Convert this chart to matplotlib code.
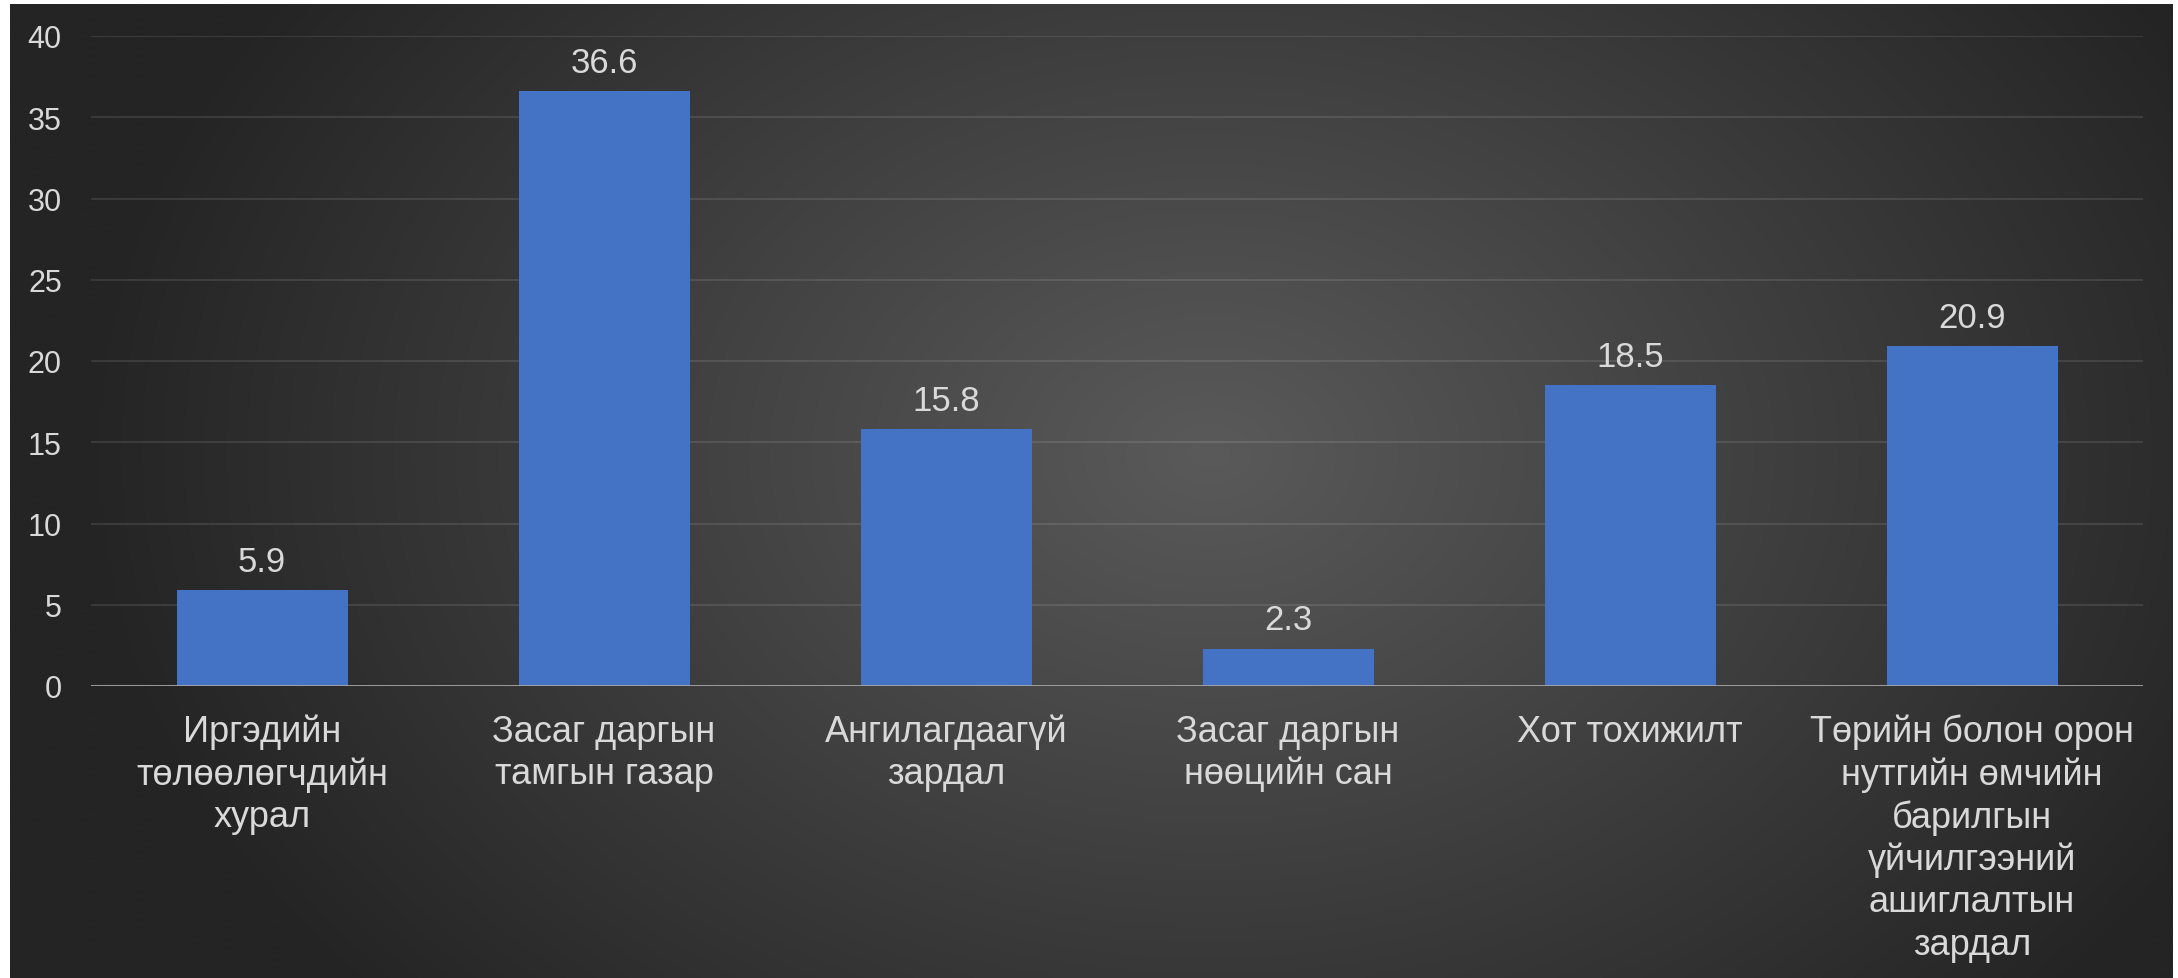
import matplotlib
matplotlib.use("Agg")
import matplotlib.pyplot as plt
import numpy as np

plt.rcParams['font.family'] = ['Liberation Sans', 'DejaVu Sans']

categories = [
    "Иргэдийн\nтөлөөлөгчдийн\nхурал",
    "Засаг даргын\nтамгын газар",
    "Ангилагдаагүй\nзардал",
    "Засаг даргын\nнөөцийн сан",
    "Хот тохижилт",
    "Төрийн болон орон\nнутгийн өмчийн\nбарилгын\nүйчилгээний\nашиглалтын\nзардал",
]
values = [5.9, 36.6, 15.8, 2.3, 18.5, 20.9]
yticks = [0, 5, 10, 15, 20, 25, 30, 35, 40]

W, H = 2178, 979
fig = plt.figure(figsize=(W / 100, H / 100), dpi=100, facecolor='white')

# dark radial background (slide style)
bg = fig.add_axes([10 / W, 0, (2173 - 10) / W, (979 - 5) / H])
bg.set_axis_off()
gx, gy = np.meshgrid(np.linspace(0, 2163, 540), np.linspace(0, 974, 250))
r = np.sqrt(((gx - 1200) / 1300) ** 2 + ((gy - 450) / 950) ** 2)
shade = np.clip(90 - 62 * r, 36, 92) / 255.0
img = np.dstack([shade, shade, shade])
bg.imshow(img, aspect='auto', extent=[0, 1, 0, 1], interpolation='bilinear')

ax = fig.add_axes([91 / W, (979 - 687) / H, 2052 / W, 650 / H])
ax.patch.set_alpha(0)

x = np.arange(len(categories))
bars = ax.bar(x, values, width=0.5, color='#4472C4', zorder=3)
ax.bar_label(bars, labels=[f"{v:.1f}" for v in values], padding=9,
             fontsize=25, color='#d9d9d9')

ax.set_xlim(-0.5, len(categories) - 0.5)
ax.set_ylim(0, 40)
ax.set_yticks(yticks)
ax.set_xticks(x)
ax.set_xticklabels(categories, fontsize=26, color='#d9d9d9', linespacing=1.26)
ax.tick_params(axis='x', length=0, pad=20)
ax.tick_params(axis='y', length=0, pad=21, labelsize=22, labelcolor='#d9d9d9')

for t in yticks[1:]:
    ax.axhline(t, color='white', alpha=0.1, linewidth=1.5, zorder=1)
ax.axhline(0, color='#a6a6a6', linewidth=2, zorder=4)

for s in ax.spines.values():
    s.set_visible(False)

fig.savefig("out.png", dpi=100, facecolor='white')
